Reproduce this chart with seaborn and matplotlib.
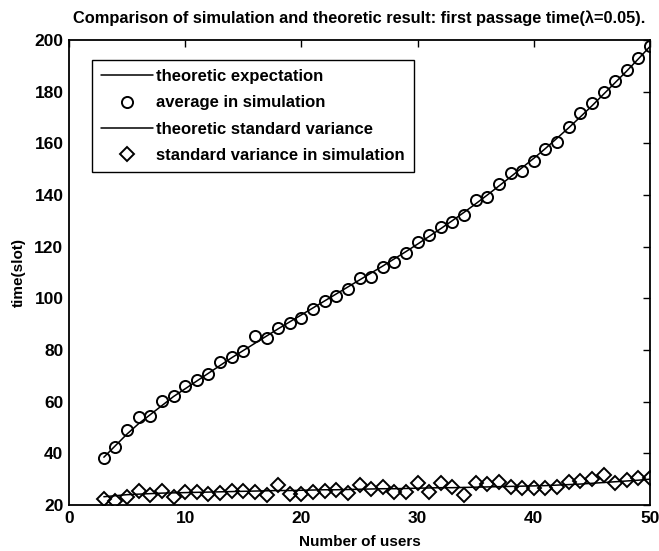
import matplotlib
matplotlib.use("Agg")
import matplotlib.pyplot as plt
import seaborn as sns

# Number of users
users = list(range(3, 51))

# Theoretic expected first passage time (slots)
theory_mean = [38.5, 43.0, 47.5, 51.5, 55.0, 58.5, 62.0, 65.0, 68.0, 71.0,
               74.0, 77.0, 79.8, 82.6, 85.4, 88.2, 90.9, 93.6, 96.3, 99.0,
               101.7, 104.4, 107.1, 109.8, 112.5, 115.3, 118.1, 121.0, 124.0, 127.0,
               130.1, 133.3, 136.6, 140.0, 143.5, 147.0, 150.6, 154.2, 158.0, 162.0,
               166.0, 170.2, 174.5, 179.0, 183.5, 188.0, 192.7, 197.5]

# Simulated average first passage time
sim_mean = [38.0, 42.6, 49.0, 54.2, 54.5, 60.3, 62.3, 66.1, 68.4, 70.6,
            75.5, 77.4, 79.7, 85.4, 84.5, 88.4, 90.6, 92.5, 95.7, 99.0,
            101.0, 103.5, 107.8, 108.4, 112.3, 114.2, 117.4, 121.7, 124.5, 127.7,
            129.7, 132.3, 138.0, 139.4, 144.1, 148.7, 149.4, 153.3, 157.8, 160.5,
            166.2, 171.6, 175.7, 180.0, 184.2, 188.4, 192.9, 197.8]

# Theoretic standard deviation
theory_std = [23.2, 23.6, 24.0, 24.2, 24.4, 24.6, 24.7, 24.8, 24.9, 25.0,
              25.1, 25.2, 25.3, 25.4, 25.5, 25.6, 25.6, 25.7, 25.8, 25.9,
              25.9, 26.0, 26.1, 26.2, 26.3, 26.3, 26.4, 26.5, 26.6, 26.7,
              26.7, 26.8, 26.9, 27.0, 27.1, 27.2, 27.3, 27.4, 27.5, 27.7,
              27.9, 28.1, 28.4, 28.7, 29.0, 29.3, 29.6, 30.0]

# Simulated standard deviation
sim_std = [22.2, 21.7, 23.2, 25.5, 23.9, 25.5, 23.2, 24.9, 25.2, 24.3,
           24.5, 25.5, 25.5, 25.2, 23.9, 27.7, 24.3, 24.3, 25.2, 25.5,
           25.8, 24.5, 27.7, 26.0, 27.1, 25.2, 25.2, 28.4, 25.2, 28.4,
           27.1, 23.9, 28.4, 28.1, 29.0, 27.1, 26.5, 26.5, 26.5, 27.1,
           29.0, 29.4, 29.9, 31.6, 28.4, 29.7, 30.3, 30.3]

x_ticks = [0, 10, 20, 30, 40, 50]
y_ticks = [20, 40, 60, 80, 100, 120, 140, 160, 180, 200]

sns.set_style("white")
plt.rcParams["font.family"] = ["Liberation Sans", "DejaVu Sans"]
plt.rcParams["font.weight"] = "bold"
for key in ("text.color", "axes.labelcolor", "xtick.color", "ytick.color"):
    plt.rcParams[key] = "black"

fig = plt.figure(figsize=(6.59, 5.51), dpi=100)
ax = fig.add_axes([69 / 659, 46 / 551, 581 / 659, 465 / 551])

lw = 1.1
sns.lineplot(x=users, y=theory_mean, ax=ax, color="black", linewidth=lw,
             label="theoretic expectation")
sns.lineplot(x=users, y=sim_mean, ax=ax, color="black", linestyle="",
             marker="o", markersize=8, markerfacecolor="none",
             markeredgecolor="black", markeredgewidth=1.4,
             label="average in simulation")
sns.lineplot(x=users, y=theory_std, ax=ax, color="black", linewidth=lw,
             label="theoretic standard variance")
sns.lineplot(x=users, y=sim_std, ax=ax, color="black", linestyle="",
             marker="D", markersize=7.5, markerfacecolor="none",
             markeredgecolor="black", markeredgewidth=1.4,
             label="standard variance in simulation")

ax.set_xlim(0, 50)
ax.set_ylim(20, 200)
ax.set_xticks(x_ticks)
ax.set_yticks(y_ticks)
ax.tick_params(direction="in", length=5, width=1, top=True, right=True,
               labelsize=12.5, pad=4, colors="black")
for lab in ax.get_xticklabels() + ax.get_yticklabels():
    lab.set_fontweight("bold")
for sp in ax.spines.values():
    sp.set_visible(True)
    sp.set_color("black")
    sp.set_linewidth(1.3)

ax.set_xlabel("Number of users", fontsize=11, fontweight="bold", labelpad=7)
ax.set_ylabel("time(slot)", fontsize=11, fontweight="bold", labelpad=6)
ax.set_title("Comparison of simulation and theoretic result: first passage time(\u03bb=0.05).",
             fontsize=11.8, fontweight="bold", pad=12)

handles, labels = ax.get_legend_handles_labels()
leg = ax.legend(handles, labels, loc="upper left",
                bbox_to_anchor=(23 / 581, 1 - 20 / 465), borderaxespad=0,
                fancybox=False, edgecolor="black", framealpha=1,
                prop={"size": 12, "weight": "bold"},
                handlelength=3.1, handletextpad=0.2, labelspacing=0.68,
                borderpad=0.55)
leg.get_frame().set_linewidth(1.0)

fig.savefig("out.png", dpi=100, facecolor="white")
